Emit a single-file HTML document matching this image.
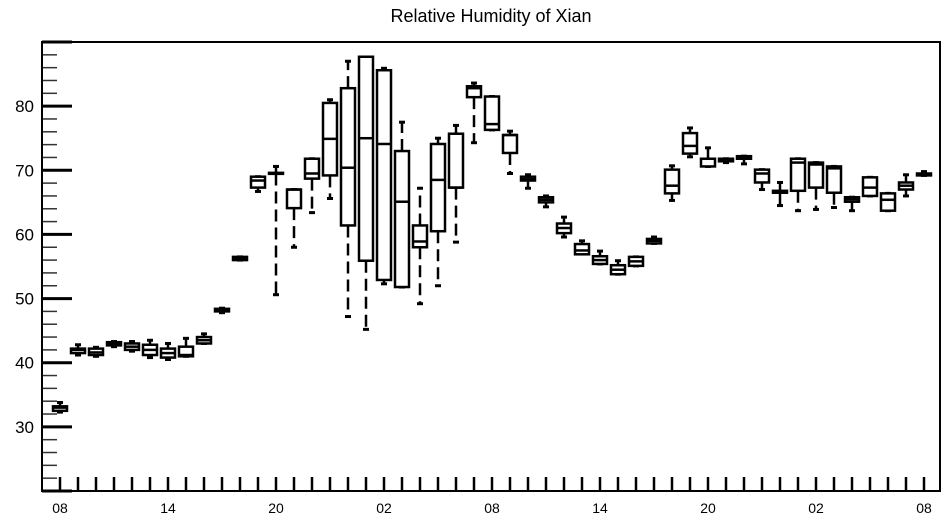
<!DOCTYPE html>
<html><head><meta charset="utf-8"><style>body{margin:0;background:#fff}svg{display:block;font-family:"Liberation Sans",sans-serif}</style></head>
<body>
<svg id="c" width="947" height="520">
<rect x="0" y="0" width="947" height="520" fill="#fff"/>
<text x="491" y="22" font-size="18" text-anchor="middle">Relative Humidity of Xian</text>
<g id="marks"></g>
<rect x="42" y="42" width="898" height="449" fill="none" stroke="#000" stroke-width="2"/>
</svg>
<script>
const lows =   [32.3,41.2,41,42.5,41.8,40.8,40.5,41,43,47.8,56,66.7,50.6,58,63.4,65.6,47.2,45.2,52.3,51.8,49.2,52,58.8,74.3,76.3,69.5,67.2,64.3,59.6,57,55.4,53.8,55.1,58.6,65.3,72.1,70.6,71.2,71,67,64.5,63.7,63.9,64.2,63.7,66,63.7,66,69.2];
const q1s =    [32.5,41.5,41.2,42.7,42,41.2,40.8,41,43,48,56,67.3,69.5,64.1,68.7,69.2,61.4,55.9,52.9,51.8,58,60.5,67.3,81.4,76.3,72.7,68.4,65,60.2,56.9,55.4,53.8,55.1,58.6,66.4,72.6,70.6,71.4,71.8,68.1,66.5,66.8,67.3,66.5,65.1,66,63.7,67,69.2];
const medians =[33,42,41.6,43,42.5,42,41.5,41.2,43.5,48.2,56.2,68.4,69.5,67,69.5,74.9,70.4,75,74.1,65.1,58.9,68.5,67.3,82.8,77.2,75.5,68.6,65.4,61,57.5,56,54.5,55.8,59,67.6,73.8,71.8,71.6,72,69.5,66.6,71.2,70.9,70.3,65.5,67.3,65.4,67.6,69.3];
const q3s =    [33.2,42.2,42.2,43.2,43,42.8,42.2,42.5,44,48.4,56.5,69,69.6,67,71.8,80.5,82.8,87.7,85.6,73,61.4,74.1,75.7,83.1,81.5,75.5,69,65.8,61.7,58.5,56.6,55.2,56.5,59.3,70.1,75.8,71.8,71.8,72.2,70.1,66.8,71.8,71.2,70.6,65.8,68.9,66.4,68.1,69.5];
const highs =  [33.8,42.8,42.4,43.3,43.3,43.5,43,43.8,44.5,48.5,56.5,69,70.6,67,71.8,81,87,87.5,85.9,77.5,67.2,75,77,83.6,81.5,76.1,69.3,66,62.7,59,57.4,55.9,56.5,59.6,70.7,76.6,73.5,71.8,72.2,70.1,68.1,71.8,71.2,70.6,65.8,68.9,66.4,69.3,69.8];
const xLabels = ["08","14","20","02","08","14","20","02","08"];
const yTicks = [30,40,50,60,70,80];
const NS="http://www.w3.org/2000/svg";
const L=42,R=940,T=42,B=491,Y0=20,Y1=90;
const X=i=>60+18*i;
const Y=v=>B-(v-Y0)/(Y1-Y0)*(B-T);
const g=document.getElementById('marks');
function mk(t,a){const e=document.createElementNS(NS,t);for(const k in a)e.setAttribute(k,a[k]);g.appendChild(e);return e;}
// y ticks
for(let v=20;v<=90;v+=2){
  const major=v%10===0;
  const e=mk('line',{x1:L,x2:L+(major?30:15),y1:Y(v),y2:Y(v),stroke:major?'#000':'#333','stroke-width':major?3:1.5});
  
  
}
yTicks.forEach(v=>{
  const t=mk('text',{x:34,y:Y(v)+6,'font-size':17,'text-anchor':'end'});
  t.textContent=v;
  
  
});
for(let i=0;i<lows.length;i++){
  const e=mk('line',{x1:X(i),x2:X(i),y1:B,y2:B-14,stroke:'#000','stroke-width':2.5});
  
  
}
xLabels.forEach((s,k)=>{
  const t=mk('text',{x:X(k*6),y:513,'font-size':14,'text-anchor':'middle'});
  t.textContent=s;
  
  
});
for(let i=0;i<lows.length;i++){
  const x=X(i),w=7;
  const wl=mk('line',{x1:x,x2:x,y1:Y(q1s[i]),y2:Y(lows[i]),stroke:'#000','stroke-width':2.5,'stroke-dasharray':'12,6'});
  
  
  const wh=mk('line',{x1:x,x2:x,y1:Y(q3s[i]),y2:Y(highs[i]),stroke:'#000','stroke-width':2.5,'stroke-dasharray':'12,6'});
  
  
  const cl=mk('line',{x1:x-3,x2:x+3,y1:Y(lows[i]),y2:Y(lows[i]),stroke:'#000','stroke-width':3});
  
  
  const ch=mk('line',{x1:x-3,x2:x+3,y1:Y(highs[i]),y2:Y(highs[i]),stroke:'#000','stroke-width':3});
  
  
  const b=mk('rect',{x:x-w,y:Y(q3s[i]),width:2*w,height:Math.max(1,Y(q1s[i])-Y(q3s[i])),fill:'#fff',stroke:'#000','stroke-width':2.5});
  
  
  const m=mk('line',{x1:x-w,x2:x+w,y1:Y(medians[i]),y2:Y(medians[i]),stroke:'#000','stroke-width':2.5});
  
  
}
</script>
</body></html>
